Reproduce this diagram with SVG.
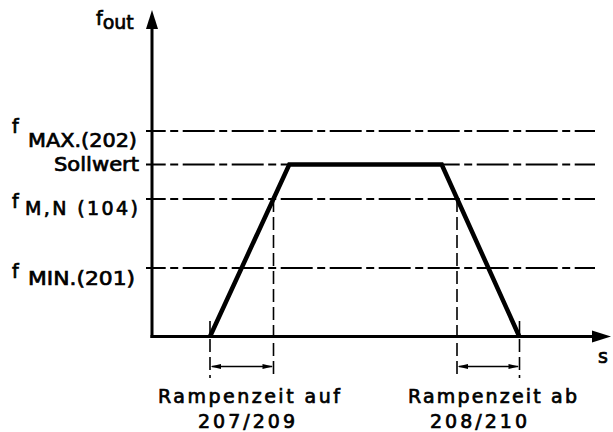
<svg xmlns="http://www.w3.org/2000/svg" width="613" height="432" viewBox="0 0 613 432">
<style>
.t{font-family:"DejaVu Sans","Liberation Sans",sans-serif;font-size:19px;fill:#000;stroke:#000;stroke-width:0.7}
.dl{stroke:#000;stroke-width:1.8;fill:none;stroke-dasharray:32 4.5 8 4.5;stroke-dashoffset:12.3}
.vd{stroke:#000;stroke-width:1.6;fill:none;stroke-dasharray:13 5}
.ax{stroke:#000;stroke-width:3;fill:none}
.dim{stroke:#000;stroke-width:1.5;fill:none}
</style>
<rect width="613" height="432" fill="#fff"/>
<g id="gridlines">
<line class="dl" x1="146" y1="131" x2="595" y2="131"/>
<line class="dl" x1="146" y1="164.5" x2="595" y2="164.5"/>
<line class="dl" x1="146" y1="199" x2="595" y2="199"/>
<line class="dl" x1="146" y1="268" x2="595" y2="268"/>
</g>
<g id="axes">
<line class="ax" x1="152" y1="338" x2="152" y2="26"/>
<polygon points="152,10 146,29 158,29" fill="#000"/>
<line class="ax" x1="150.5" y1="336.5" x2="594" y2="336.5"/>
<polygon points="611,336.5 592,330.5 592,342.5" fill="#000"/>
</g>
<g id="connectors">
<polyline points="210,336.5 289.3,164.5 441.7,164.5 519.3,336.5" fill="none" stroke="#000" stroke-width="4.5" stroke-linejoin="miter"/>
<line class="vd" x1="210" y1="321" x2="210" y2="378"/>
<line class="vd" x1="273.5" y1="199" x2="273.5" y2="378"/>
<line class="vd" x1="457" y1="199" x2="457" y2="378"/>
<line class="vd" x1="519.5" y1="321" x2="519.5" y2="378"/>
<line class="dim" x1="212" y1="366.5" x2="272" y2="366.5"/>
<polygon points="210.5,366.5 221,364 221,369" fill="#000"/>
<polygon points="273,366.5 262.5,364 262.5,369" fill="#000"/>
<line class="dim" x1="459" y1="366.5" x2="518" y2="366.5"/>
<polygon points="457.5,366.5 468,364 468,369" fill="#000"/>
<polygon points="519,366.5 508.5,364 508.5,369" fill="#000"/>
</g>
<g id="labels">
<text class="t" x="96" y="25">f<tspan dy="4">out</tspan></text>
<text class="t" x="12" y="133" font-size="16">f</text>
<text class="t" x="28" y="147" textLength="109" lengthAdjust="spacingAndGlyphs">MAX.(202)</text>
<text class="t" x="139" y="171" text-anchor="end" textLength="85" lengthAdjust="spacingAndGlyphs">Sollwert</text>
<text class="t" x="12" y="208">f</text>
<text class="t" x="25" y="215" textLength="113" lengthAdjust="spacing">M,N (104)</text>
<text class="t" x="12" y="278" font-size="16">f</text>
<text class="t" x="28" y="285" textLength="107" lengthAdjust="spacingAndGlyphs">MIN.(201)</text>
<text class="t" x="598" y="363">s</text>
<text class="t" x="158" y="403" textLength="182" lengthAdjust="spacing">Rampenzeit auf</text>
<text class="t" x="198" y="428" textLength="97" lengthAdjust="spacing">207/209</text>
<text class="t" x="408" y="403" textLength="169" lengthAdjust="spacing">Rampenzeit ab</text>
<text class="t" x="430" y="428" textLength="97" lengthAdjust="spacing">208/210</text>
</g>
</svg>
